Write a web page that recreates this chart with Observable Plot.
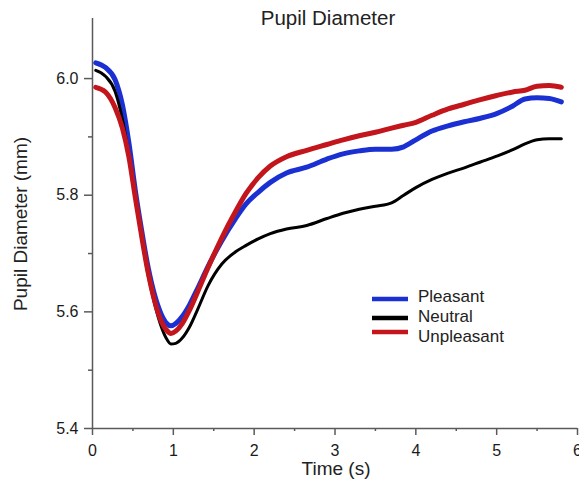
<!DOCTYPE html>
<html>
<head>
<meta charset="utf-8">
<script src="https://cdn.jsdelivr.net/npm/d3@7"></script>
<script src="https://cdn.jsdelivr.net/npm/@observablehq/plot@0.6"></script>
<style>
  html, body { margin: 0; padding: 0; background: white; }
</style>
</head>
<body>
<div id="chart"></div>
<script>
// ---- data ----
const time = [0.04, 0.16, 0.28, 0.37, 0.45, 0.53, 0.61, 0.69, 0.77, 0.85, 0.92, 0.97, 1.03, 1.11, 1.2, 1.3, 1.43, 1.6, 1.77, 1.9, 2.05, 2.2, 2.4, 2.65, 2.9, 3.1, 3.3, 3.5, 3.7, 3.85, 4.0, 4.2, 4.4, 4.6, 4.8, 5.0, 5.2, 5.35, 5.5, 5.65, 5.8];

const pleasant = [6.027, 6.019, 5.998, 5.955, 5.890, 5.808, 5.738, 5.675, 5.628, 5.596, 5.580, 5.576, 5.580, 5.592, 5.612, 5.640, 5.678, 5.722, 5.760, 5.785, 5.805, 5.822, 5.838, 5.848, 5.862, 5.871, 5.876, 5.879, 5.879, 5.883, 5.895, 5.910, 5.919, 5.926, 5.932, 5.940, 5.953, 5.965, 5.967, 5.966, 5.960];

const neutral = [6.014, 6.004, 5.978, 5.930, 5.868, 5.795, 5.725, 5.662, 5.613, 5.575, 5.553, 5.545, 5.546, 5.555, 5.574, 5.604, 5.645, 5.682, 5.703, 5.714, 5.725, 5.734, 5.742, 5.748, 5.760, 5.769, 5.776, 5.781, 5.787, 5.800, 5.813, 5.827, 5.838, 5.847, 5.857, 5.867, 5.878, 5.888, 5.895, 5.897, 5.897];

const unpleasant = [5.985, 5.977, 5.950, 5.915, 5.866, 5.796, 5.728, 5.666, 5.618, 5.584, 5.568, 5.563, 5.567, 5.580, 5.603, 5.634, 5.676, 5.727, 5.772, 5.803, 5.830, 5.850, 5.866, 5.877, 5.887, 5.895, 5.902, 5.908, 5.915, 5.920, 5.925, 5.937, 5.948, 5.956, 5.964, 5.971, 5.977, 5.980, 5.987, 5.988, 5.985];

const seriesNames = ["Pleasant", "Neutral", "Unpleasant"];
const seriesColors = ["#1b30d2", "#000000", "#c2161c"];
const seriesWidths = [5, 3, 5];

const yTicks = [5.4, 5.6, 5.8, 6.0];
const yMinorTicks = [5.5, 5.7, 5.9];
const xTicks = [0, 1, 2, 3, 4, 5, 6];
const xMinorTicks = [0.5, 1.5, 2.5, 3.5, 4.5, 5.5];

const titleText = "Pupil Diameter";
const xLabel = "Time (s)";
const yLabel = "Pupil Diameter (mm)";

// ---- build ----
const seriesValues = [pleasant, neutral, unpleasant];
const rows = seriesNames.map((name, i) => time.map((t, j) => ({series: name, t, v: seriesValues[i][j]})));

const axisColor = "#5a5a5a";
const font = "'Liberation Sans', Arial, Helvetica, sans-serif";

const lineMarks = [0, 1, 2].map(i =>
  Plot.line(rows[i], {x: "t", y: "v", stroke: seriesColors[i], strokeWidth: seriesWidths[i], curve: "monotone-x", strokeLinecap: "round"})
);

const chart = Plot.plot({
  width: 579,
  height: 488,
  marginLeft: 92,
  marginRight: 2,
  marginTop: 18,
  marginBottom: 60,
  style: {fontFamily: font, fontSize: "16px", color: "#1a1a1a", background: "white"},
  x: {domain: [0, 6], axis: null},
  y: {domain: [5.4, 6.103], axis: null},
  marks: [
    Plot.axisY({ticks: yTicks, tickSize: 8, tickPadding: 6, tickFormat: d3.format(".1f"), label: null, stroke: axisColor, strokeWidth: 1.5, fontSize: 16}),
    Plot.axisY({ticks: yMinorTicks, tickSize: 4, tickFormat: () => "", label: null, stroke: axisColor, strokeWidth: 1.5}),
    Plot.axisX({ticks: xTicks, tickSize: 7, tickPadding: 9, tickFormat: d3.format("d"), label: null, stroke: axisColor, strokeWidth: 1.5, fontSize: 16}),
    Plot.axisX({ticks: xMinorTicks, tickSize: 3, tickFormat: () => "", label: null, stroke: axisColor, strokeWidth: 1.5}),
    Plot.ruleX([0], {stroke: axisColor, strokeWidth: 1.5}),
    Plot.ruleY([5.4], {stroke: axisColor, strokeWidth: 1.5}),
    ...lineMarks
  ]
});

const svg = d3.select(chart);

// title
svg.append("text")
  .attr("x", 328).attr("y", 25)
  .attr("text-anchor", "middle")
  .attr("font-size", 20.5)
  .attr("fill", "#222")
  .text(titleText);

// x label
svg.append("text")
  .attr("x", 336).attr("y", 475)
  .attr("text-anchor", "middle")
  .attr("font-size", 19)
  .attr("fill", "#222")
  .text(xLabel);

// y label
svg.append("text")
  .attr("transform", "translate(27,224) rotate(-90)")
  .attr("text-anchor", "middle")
  .attr("font-size", 19)
  .attr("fill", "#222")
  .text(yLabel);

// legend
const legendLineY = [299, 318, 332];
const legendTextY = [302, 322, 342];
const lg = svg.append("g");
seriesNames.forEach((name, i) => {
  lg.append("line")
    .attr("x1", 372).attr("x2", 408)
    .attr("y1", legendLineY[i]).attr("y2", legendLineY[i])
    .attr("stroke", seriesColors[i]).attr("stroke-width", 4.5);
  lg.append("text")
    .attr("x", 418).attr("y", legendTextY[i])
    .attr("text-anchor", "start")
    .attr("font-size", 17)
    .attr("fill", "#222")
    .text(name);
});

document.getElementById("chart").appendChild(chart);
</script>
</body>
</html>
